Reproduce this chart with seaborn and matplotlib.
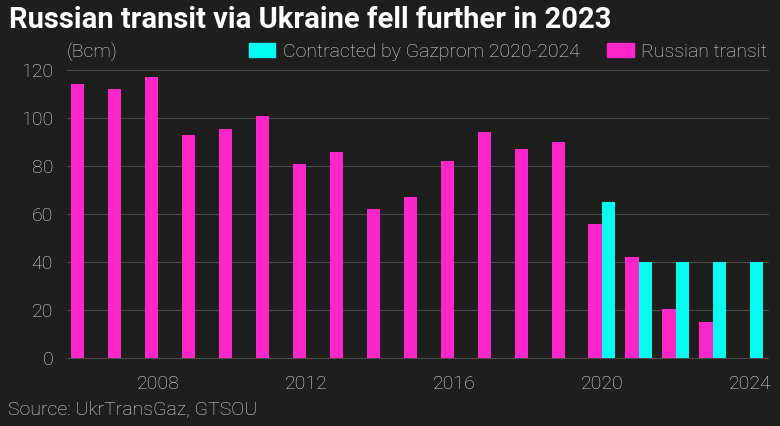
import matplotlib.pyplot as plt
import seaborn as sns
import pandas as pd

years = [str(y) for y in range(2006, 2025)]
transit = [114, 112, 117, 93, 95.5, 101, 81, 86, 62, 67, 82, 94, 87, 90, 56, 42, 20.5, 15, None]
contracted = [None] * 14 + [65, 40, 40, 40, 40]
shown_years = ["2008", "2012", "2016", "2020", "2024"]

bg = "#1e1e1e"
pink = "#ff26c9"
cyan = "#00fff0"

rows = []
for y, t, c in zip(years, transit, contracted):
    if t is not None:
        rows.append({"Year": y, "Bcm": t, "Series": "Russian transit"})
    if c is not None:
        rows.append({"Year": y, "Bcm": c, "Series": "Contracted by Gazprom 2020-2024"})
df = pd.DataFrame(rows)

sns.set_style("dark")
plt.rcParams["font.family"] = ["Roboto", "DejaVu Sans"]

fig = plt.figure(figsize=(7.8, 4.26), dpi=100, facecolor=bg)
ax = fig.add_axes([67 / 780, 68 / 426, 701 / 780, 288 / 426])
ax.set_facecolor(bg)

sns.barplot(data=df, x="Year", y="Bcm", hue="Series", order=years,
            hue_order=["Russian transit", "Contracted by Gazprom 2020-2024"],
            palette=[pink, cyan], saturation=1, width=0.73, errorbar=None,
            linewidth=0, ax=ax, legend=False, zorder=3)

ax.set_ylim(0, 120)
ax.set_yticks(range(0, 121, 20))
ax.set_xlim(-0.47, len(years) - 0.51)
ax.set_xticks([years.index(y) for y in shown_years])
ax.set_xticklabels(shown_years)
ax.grid(axis="y", color="#4a4a4a", linewidth=0.8, zorder=0)
ax.grid(axis="x", visible=False)
for ln in ax.get_ygridlines():
    ln.set_clip_on(False)
for s in ax.spines.values():
    s.set_visible(False)
ax.tick_params(axis="both", length=0, labelsize=14, labelcolor="#e0e0e0")
ax.tick_params(axis="y", pad=10)
ax.tick_params(axis="x", pad=12)
for lab in ax.get_xticklabels() + ax.get_yticklabels():
    lab.set_fontweight("light")
ax.set_xlabel("")
ax.set_ylabel("")

fig.text(9 / 780, 1 - 20 / 426, "Russian transit via Ukraine fell further in 2023",
         color="white", fontsize=21, fontweight="bold", va="center", ha="left")
fig.text(67 / 780, 1 - 52 / 426, "(Bcm)", color="#e0e0e0", fontsize=14,
         fontweight="light", va="center", ha="left")
fig.text(8 / 780, 1 - 409 / 426, "Source: UkrTransGaz, GTSOU", color="#e0e0e0",
         fontsize=14, fontweight="light", va="center", ha="left")

handles = [plt.Rectangle((0, 0), 1, 1, color=cyan), plt.Rectangle((0, 0), 1, 1, color=pink)]
labels = ["Contracted by Gazprom 2020-2024", "Russian transit"]
leg = fig.legend(handles, labels, loc="center right", bbox_to_anchor=(775 / 780, 1 - 52 / 426),
                 ncol=2, frameon=False, fontsize=14, handlelength=1.35, handleheight=0.7,
                 handletextpad=0.4, columnspacing=1.4, borderaxespad=0)
for t in leg.get_texts():
    t.set_color("#e0e0e0")
    t.set_fontweight("light")

fig.savefig("out.png", dpi=100, facecolor=bg)
